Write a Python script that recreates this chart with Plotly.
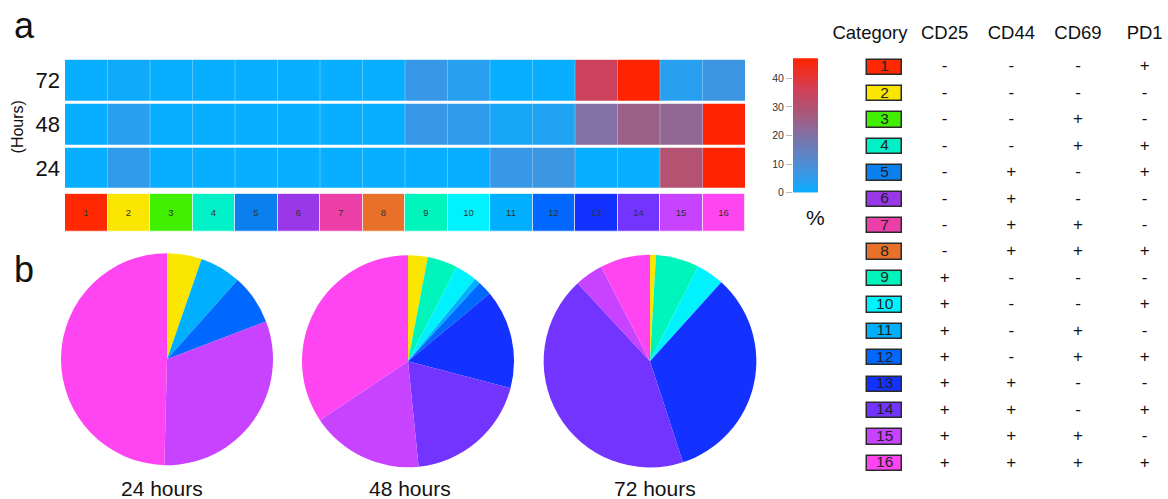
import numpy as np
import plotly.graph_objects as go

W, H = 1168, 507
SY = H * 491.5 / 499  # effective vertical pixel span observed in rendering

categories = list(range(1, 16 + 1))
cat_colors = ["#FF2800", "#FAE600", "#40F000", "#00F0C8", "#0A80EE", "#9838E8",
              "#EC40A8", "#E87028", "#00F5BC", "#00F2FF", "#00B0FF", "#0068FF",
              "#1432FF", "#7334FF", "#C843FF", "#FF44F2"]

hours = ["24", "48", "72"]
heat_24 = [0, 5, 0, 0, 0, 0, 0, 0, 0, 0, 6, 7, 0, 0, 30, 47]
heat_48 = [0, 4, 0, 0, 0, 0, 0, 0, 6, 5, 2, 3, 20, 25, 23, 47]
heat_72 = [0, 1, 0, 0, 0, 0, 0, 0, 6, 4, 0, 0, 35, 47, 4, 7]

pie_24 = [0, 5.3, 0, 0, 0, 0, 0, 0, 0, 0, 6.3, 7.6, 0, 0, 31.2, 49.6]
pie_48 = [0, 3.0, 0, 0, 0, 0, 0, 0, 4.6, 3.3, 0.9, 2.2, 15.1, 19.3, 17.2, 34.4]
pie_72 = [0, 0.9, 0, 0, 0, 0, 0, 0, 6.6, 4.2, 0, 0, 33.3, 43.1, 4.3, 7.6]
pie_titles = ["24 hours", "48 hours", "72 hours"]

markers = ["CD25", "CD44", "CD69", "PD1"]
cd25 = ["-", "-", "-", "-", "-", "-", "-", "-", "+", "+", "+", "+", "+", "+", "+", "+"]
cd44 = ["-", "-", "-", "-", "+", "+", "+", "+", "-", "-", "-", "-", "+", "+", "+", "+"]
cd69 = ["-", "-", "+", "+", "-", "-", "+", "+", "-", "-", "+", "+", "-", "-", "+", "+"]
pd1 = ["+", "-", "-", "+", "+", "-", "-", "+", "-", "+", "-", "+", "-", "+", "-", "+"]

zmax = 47
colorbar_ticks = [0, 10, 20, 30, 40]

cscale = [[0.0, "#08AEFF"], [0.1, "#2E9CEC"], [0.2, "#4A8FD8"], [0.43, "#8270A4"],
          [0.55, "#A05E84"], [0.65, "#B5506E"], [0.76, "#D0405A"], [1.0, "#FF2400"]]

FONT = "Liberation Sans, Arial, sans-serif"


def px(x):
    return x / W


def py(y):
    return 1 - y / SY


fig = go.Figure()

# Heatmap
fig.add_trace(go.Heatmap(
    z=[heat_24, heat_48, heat_72], x=categories, y=hours,
    colorscale=cscale, zmin=0, zmax=zmax, showscale=False, ygap=3,
    xaxis="x", yaxis="y"))

# Category strip
fig.add_trace(go.Bar(
    x=categories, y=[1] * len(categories), width=1,
    marker=dict(color=cat_colors, line=dict(color="rgba(255,255,255,0.6)", width=1)),
    text=[str(c) for c in categories], textposition="inside",
    insidetextanchor="middle", textangle=0,
    textfont=dict(size=9.5, color="#333", family=FONT),
    xaxis="x2", yaxis="y2", hoverinfo="skip"))

# Colorbar ramp (legend gradient)
ramp = np.linspace(0, zmax, 240)
fig.add_trace(go.Heatmap(
    z=[[v] for v in ramp], x=[0], y=ramp, colorscale=cscale, zmin=0, zmax=zmax,
    showscale=False, xaxis="x3", yaxis="y3", hoverinfo="skip"))

# Pies
pie_domains = [
    dict(x=[px(61), px(273)], y=[py(464), py(252)]),
    dict(x=[px(302), px(514)], y=[py(466), py(254)]),
    dict(x=[px(543), px(757)], y=[py(466), py(254)]),
]
for vals, dom in zip([pie_24, pie_48, pie_72], pie_domains):
    fig.add_trace(go.Pie(
        values=vals, labels=[str(c) for c in categories],
        marker=dict(colors=cat_colors, line=dict(width=0)),
        sort=False, direction="clockwise", rotation=0,
        textinfo="none", domain=dom, showlegend=False))

# Table: swatches
sw_center = 0.1
fig.add_trace(go.Bar(
    y=categories, x=[0.525] * len(categories), base=sw_center - 0.2625,
    orientation="h", width=0.58,
    marker=dict(color=cat_colors, line=dict(color="#2a2a2a", width=1.5)),
    textposition="none",
    xaxis="x4", yaxis="y4", hoverinfo="skip"))
fig.add_trace(go.Scatter(
    x=[sw_center] * len(categories), y=categories, mode="text",
    text=[str(c) for c in categories],
    textfont=dict(size=15.5, color="#222", family=FONT),
    xaxis="x4", yaxis="y4", hoverinfo="skip"))

# Table: signs
for i, col in enumerate([cd25, cd44, cd69, pd1]):
    fig.add_trace(go.Scatter(
        x=[i + 1] * len(categories), y=categories, mode="text", text=col,
        textfont=dict(size=17, color="#111", family=FONT),
        xaxis="x4", yaxis="y4", hoverinfo="skip"))

# Table: headers
fig.add_trace(go.Scatter(
    x=[-0.12] + [i + 1 for i in range(len(markers))], y=[-0.25] * 5,
    mode="text", text=["Category"] + markers,
    textfont=dict(size=18.5, color="#111", family=FONT),
    xaxis="x4", yaxis="y4", hoverinfo="skip"))

# Faint column separators in heatmap
shapes = []
for c in categories[:-1]:
    shapes.append(dict(type="line", xref="x", yref="y", x0=c + 0.5, x1=c + 0.5,
                       y0=-0.5, y1=2.5, line=dict(color="rgba(255,255,255,0.3)", width=1)))

annotations = [
    dict(text="a", x=px(24), y=py(25), xref="paper", yref="paper", showarrow=False,
         font=dict(size=36, color="#111", family=FONT), xanchor="center", yanchor="middle"),
    dict(text="b", x=px(24), y=py(269), xref="paper", yref="paper", showarrow=False,
         font=dict(size=36, color="#111", family=FONT), xanchor="center", yanchor="middle"),
    dict(text="(Hours)", x=px(17), y=py(127), xref="paper", yref="paper", showarrow=False,
         textangle=-90, font=dict(size=16, color="#111", family=FONT),
         xanchor="center", yanchor="middle"),
    dict(text="%", x=px(815), y=py(217), xref="paper", yref="paper", showarrow=False,
         font=dict(size=21, color="#111", family=FONT), xanchor="center", yanchor="middle"),
]
for t, cx in zip(pie_titles, [162, 410, 655]):
    annotations.append(dict(text=t, x=px(cx), y=py(486.5), xref="paper", yref="paper",
                            showarrow=False, font=dict(size=21, color="#111", family=FONT),
                            xanchor="center", yanchor="middle"))

row0, row_step = 67, 26.33
y4_top = 1 + (0 - row0) / row_step
y4_bot = 1 + (SY - row0) / row_step

hm_dom_x = [px(65), px(745)]
fig.update_layout(
    width=W, height=H, margin=dict(l=0, r=0, t=0, b=0),
    paper_bgcolor="white", plot_bgcolor="white", showlegend=False,
    font=dict(family=FONT, color="#111"),
    shapes=shapes, annotations=annotations,
    xaxis=dict(domain=hm_dom_x, range=[0.5, 16.5], visible=False, anchor="y"),
    yaxis=dict(domain=[py(190), py(58)], type="category", anchor="x",
               tickfont=dict(size=22, color="#111"), ticks="", showgrid=False,
               zeroline=False, showline=False, ticklabelstandoff=4),
    xaxis2=dict(domain=hm_dom_x, range=[0.5, 16.5], visible=False, anchor="y2"),
    yaxis2=dict(domain=[py(231), py(193)], range=[0, 1], visible=False, anchor="x2"),
    xaxis3=dict(domain=[px(793), px(837)], range=[-0.5, 0.5], visible=False, anchor="y3"),
    yaxis3=dict(domain=[py(192), py(58)], range=[0, zmax], anchor="x3", side="left",
                tickvals=colorbar_ticks, ticks="outside", ticklen=6, tickcolor="#bbb",
                tickfont=dict(size=10.5, color="#333"), showgrid=False, zeroline=False,
                showline=False),
    xaxis4=dict(domain=[px(818), 1.0], range=[-0.9, 4.35], visible=False, anchor="y4"),
    yaxis4=dict(domain=[0, 1], range=[y4_bot, y4_top], visible=False, anchor="x4"),
    bargap=0,
)

fig.write_html("out.html")
